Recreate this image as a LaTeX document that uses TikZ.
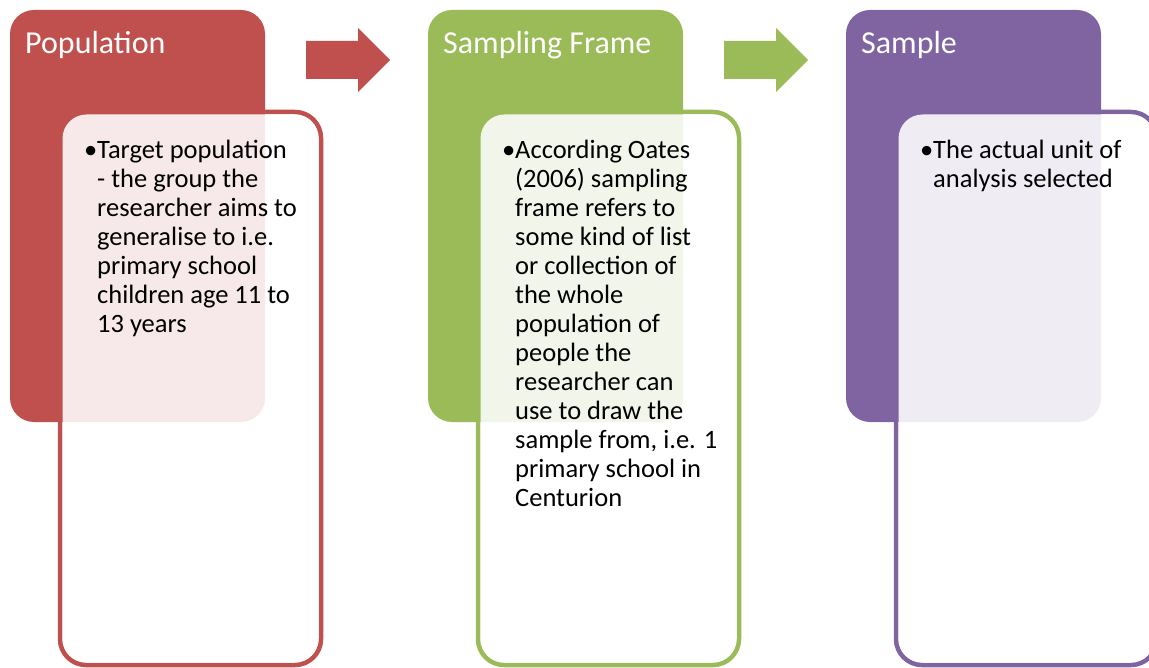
\documentclass[tikz,border=0pt]{standalone}
\usepackage{fontspec}
\setmainfont{Carlito}
\definecolor{popred}{HTML}{C0504D}
\definecolor{framegreen}{HTML}{9BBB59}
\definecolor{samplepurple}{HTML}{8064A2}
\begin{document}
\begin{tikzpicture}[x=1pt,y=-1pt,
  outline/.style={draw=#1, line width=4.5pt, fill=white, rounded corners=26pt},
  header/.style={fill=#1, rounded corners=24pt},
  veil/.style={fill=white, fill opacity=0.88, rounded corners=24pt},
  title/.style={anchor=base west, inner sep=0pt, text=white, font=\fontsize{32}{38}\selectfont},
  body/.style={anchor=base west, inner sep=0pt, font=\fontsize{26.5}{29}\selectfont}
]
\useasboundingbox (0,0) rectangle (1149,668);

% ---------- Population ----------
\draw[outline=popred] (60,112) rectangle (321,665);
\fill[header=popred] (10,10) rectangle (265,422);
\fill[veil] (62.5,114.5) rectangle (318.5,662.5);
\node[title] (popT) at (25,54) {Population};
\node[body] (popB) at (97,159) {\parbox[t]{240pt}{\raggedright\leavevmode\llap{\textbullet}Target population\\
- the group the\\
researcher aims to\\
generalise to i.e.\\
primary school\\
children age 11 to\\
13 years}};

\coordinate (arrA) at (306,60);
\fill[popred] (arrA) ++(0,-19) -- ++(52,0) -- ++(0,-13) -- ++(32,32) -- ++(-32,32) -- ++(0,-13) -- ++(-52,0) -- cycle;

% ---------- Sampling Frame ----------
\draw[outline=framegreen] (478,112) rectangle (739,665);
\fill[header=framegreen] (428,10) rectangle (683,422);
\fill[veil] (480.5,114.5) rectangle (736.5,662.5);
\node[title] (frmT) at (443,54) {Sampling Frame};
\node[body] (frmB) at (515,159) {\parbox[t]{240pt}{\raggedright\leavevmode\llap{\textbullet}According Oates\\
(2006) sampling\\
frame refers to\\
some kind of list\\
or collection of\\
the whole\\
population of\\
people the\\
researcher can\\
use to draw the\\
sample from, i.e. 1\\
primary school in\\
Centurion}};

\coordinate (arrB) at (724,60);
\fill[framegreen] (arrB) ++(0,-19) -- ++(52,0) -- ++(0,-13) -- ++(32,32) -- ++(-32,32) -- ++(0,-13) -- ++(-52,0) -- cycle;

% ---------- Sample ----------
\draw[outline=samplepurple] (896,112) rectangle (1157,665);
\fill[header=samplepurple] (846,10) rectangle (1101,422);
\fill[veil] (898.5,114.5) rectangle (1154.5,662.5);
\node[title] (smpT) at (861,54) {Sample};
\node[body] (smpB) at (933,159) {\parbox[t]{240pt}{\raggedright\leavevmode\llap{\textbullet}The actual unit of\\
analysis selected}};
\end{tikzpicture}
\end{document}
